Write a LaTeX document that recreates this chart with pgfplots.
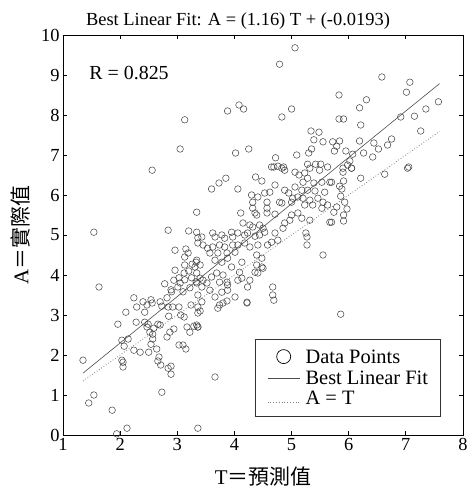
\documentclass[border=0pt]{standalone}
\usepackage{pgfplots}
\pgfplotsset{compat=1.18}
\usepackage{pgfplotstable}
\usepackage{fontspec}
\setmainfont{Liberation Serif}
\newfontfamily\cjk{Noto Sans CJK TC}
\pgfplotsset{
  linelegend/.style={legend image code/.code={\draw[##1] (0bp,0bp) -- (32bp,0bp);}},
  dotlegend/.style={legend image code/.code={\draw[##1] (0bp,-3.5bp) -- (32bp,-3.5bp);}},
  biglegend/.style={legend image code/.code={\path[draw=none,fill=none] (0bp,0bp) -- (32bp,0bp); \draw[##1, mark size=7bp, mark options={line width=0.7pt}] plot coordinates {(16bp,1bp)};}},
}
\pgfplotstableread{
x y
5.06 9.68
4.79 9.27
3.88 8.10
4.08 8.25
4.16 8.15
5.00 8.15
4.83 7.95
4.02 7.05
4.25 7.15
5.34 7.60
5.48 7.57
5.39 7.38
5.55 7.33
5.35 7.15
5.30 7.05
5.09 7.00
4.72 6.93
4.65 6.70
4.76 6.72
4.86 6.70
5.28 6.77
5.42 6.77
5.51 6.77
5.72 7.33
3.13 7.88
3.05 7.15
2.56 6.62
6.58 8.95
7.07 8.82
7.01 8.57
5.83 8.50
6.31 8.38
6.19 8.18
7.57 8.33
7.35 8.15
6.91 7.95
7.15 7.97
5.83 7.90
5.91 7.90
6.21 7.75
7.26 7.60
6.75 7.40
6.68 7.25
6.52 7.15
6.44 7.30
6.19 7.35
5.84 7.35
5.79 7.22
5.75 7.10
5.95 7.10
6.07 7.02
6.26 7.05
6.42 6.95
6.02 6.85
5.98 6.75
5.90 6.67
6.05 6.67
7.05 6.70
1.54 5.07
2.84 5.12
3.20 5.10
3.34 5.57
3.36 4.93
2.96 4.62
3.15 4.65
3.19 4.55
3.13 4.45
3.33 4.32
3.26 4.27
3.13 4.25
3.20 4.10
3.31 4.20
2.96 4.12
3.12 4.05
3.03 3.93
2.94 3.87
3.05 3.80
3.13 3.88
3.25 3.93
3.33 3.83
2.78 3.78
2.89 3.63
2.90 3.58
3.01 3.70
3.10 3.58
3.22 3.68
1.63 3.70
2.24 3.43
2.40 3.33
2.54 3.38
2.70 3.33
2.82 3.43
4.69 6.70
4.83 6.67
4.88 6.62
5.06 6.57
5.13 6.50
5.23 6.55
5.32 6.67
5.49 6.62
5.63 6.70
4.37 6.45
4.48 6.35
3.85 6.42
3.73 6.30
3.60 6.15
4.06 6.15
4.71 6.25
4.62 6.07
4.53 6.05
4.88 6.12
4.95 6.05
5.28 6.42
5.20 6.32
5.39 6.30
5.53 6.32
5.67 6.32
5.06 6.20
5.18 6.12
5.28 6.12
5.41 6.10
5.58 6.07
4.30 6.00
4.41 5.95
4.57 5.82
4.32 5.82
4.79 5.82
4.83 5.80
5.02 5.92
5.00 5.82
5.11 5.95
5.20 5.92
5.32 5.87
5.46 5.92
5.55 5.82
4.32 5.67
4.36 5.55
4.57 5.67
4.57 5.55
5.23 5.75
5.37 5.75
5.53 5.67
5.63 5.75
4.11 5.55
4.39 5.50
4.71 5.52
5.00 5.50
5.11 5.55
4.97 5.37
4.88 5.30
4.85 5.17
5.18 5.42
5.32 5.37
5.67 5.32
4.15 5.30
4.27 5.25
4.32 5.20
4.44 5.25
4.50 5.17
4.53 5.07
4.44 5.00
4.23 5.05
4.36 4.97
4.71 5.05
4.76 4.87
4.65 4.82
4.58 4.75
5.25 5.05
5.27 4.95
5.27 4.75
5.55 4.50
3.43 4.95
3.34 5.07
3.62 5.05
3.66 4.95
3.78 5.00
3.83 4.92
3.95 5.07
3.97 4.95
4.06 5.05
4.18 5.00
3.36 4.80
3.45 4.75
3.53 4.67
3.62 4.70
3.74 4.75
3.83 4.70
3.97 4.75
4.06 4.75
4.18 4.80
4.27 4.70
4.41 4.75
3.57 4.55
3.71 4.55
3.87 4.55
4.01 4.57
4.39 4.50
4.48 4.42
3.34 4.37
3.40 4.25
3.66 4.37
3.78 4.32
3.88 4.42
4.13 4.32
3.95 4.20
4.39 4.25
4.48 4.20
4.36 4.07
4.41 4.05
4.50 4.17
3.69 4.05
3.80 4.00
3.60 3.95
4.09 4.07
4.13 3.92
3.34 4.05
3.40 3.92
3.45 3.87
3.52 3.80
3.34 3.80
3.43 3.70
3.74 3.82
3.87 3.82
3.88 3.75
4.06 3.87
4.27 3.87
4.23 3.70
4.67 3.70
4.67 3.50
3.57 3.62
3.78 3.57
3.88 3.62
3.66 3.45
4.01 3.45
4.22 3.32
3.36 3.50
3.43 3.33
7.03 6.67
6.63 6.52
6.21 6.42
6.05 6.67
5.90 6.57
5.70 6.32
5.91 6.35
5.84 6.22
5.88 6.15
5.86 5.97
5.93 5.82
5.97 5.65
5.91 5.50
5.91 5.35
5.79 5.70
5.74 5.57
5.70 5.32
2.10 3.07
1.96 2.77
1.35 1.87
1.45 0.80
1.54 1.00
1.86 0.62
2.12 0.17
1.94 0.03
2.03 2.37
2.14 2.40
2.07 2.22
2.03 1.87
2.05 1.82
2.05 1.70
2.24 2.12
2.35 2.07
2.50 2.07
2.28 2.82
2.47 3.25
2.56 3.30
2.43 3.07
2.43 2.82
2.49 2.77
2.47 2.70
2.52 2.57
2.57 2.52
2.66 2.77
2.70 2.75
2.59 2.67
2.29 3.20
2.57 2.40
2.54 2.27
2.64 2.15
2.68 1.95
2.66 1.85
2.71 1.75
2.84 1.67
2.89 1.72
2.89 1.52
3.03 2.25
3.10 2.25
3.15 2.15
2.73 1.07
2.82 2.45
2.87 2.57
2.94 2.65
2.73 3.22
2.84 3.20
2.92 3.20
3.03 3.20
3.24 3.25
2.85 2.97
3.06 3.00
3.12 2.95
3.17 2.70
3.22 2.57
3.29 2.72
3.36 2.70
3.36 0.17
3.66 1.45
3.36 3.20
3.40 3.10
3.36 3.05
3.71 3.17
3.74 3.25
3.80 3.30
3.87 3.35
4.22 3.30
4.69 3.37
3.36 2.70
3.34 2.75
5.86 3.02
}\datatable
\pgfplotstableread{
x y
1.35 1.5467
7.59 8.7851
}\fittable
\pgfplotstableread{
x y
1.35 1.35
7.59 7.59
}\idtable
\begin{document}
\begin{tikzpicture}
\begin{axis}[
  scale only axis,
  width=400bp, height=400bp,
  xmin=1, xmax=8, ymin=0, ymax=10,
  xtick={1,2,3,4,5,6,7,8},
  ytick={0,1,2,3,4,5,6,7,8,9,10},
  tick align=inside,
  major tick length=4bp,
  axis line style={black, line width=0.8pt},
  every tick/.style={black, line width=0.8pt},
  tick label style={font=\fontsize{18.5}{20}\selectfont},
  /pgf/number format/assume math mode=true,
  title={Best Linear Fit: A = (1.16) T + (-0.0193)},
  title style={font=\fontsize{18.5}{20}\selectfont, yshift=-4bp, xshift=-25bp},
  xlabel={T{\cjk ＝預測值}},
  ylabel={A{\cjk ＝實際值}},
  label style={font=\fontsize{21}{22}\selectfont},
  xlabel style={yshift=-9bp},
  ylabel style={yshift=4bp},
  legend style={at={(0.945,0.045)}, anchor=south east, draw=black!80, line width=0.8pt,
    font=\fontsize{20.5}{21}\selectfont, row sep=4.5bp, inner xsep=12bp, inner ysep=10bp,
    nodes={inner sep=0.5bp}, column sep=5bp, cells={anchor=west}},
  legend cell align=left,
  clip=false,
]
\addplot[only marks, mark=o, mark size=3.3pt, mark options={draw=black!75, line width=0.5pt}, biglegend] table {\datatable};
\addlegendentry{Data Points}
\addplot[black!70, line width=0.6pt, linelegend] table {\fittable};
\addlegendentry{Best Linear Fit}
\addplot[black!50, dotted, line width=0.8pt, dotlegend] table {\idtable};
\addlegendentry{A = T}
\node[anchor=west, font=\fontsize{20}{21}\selectfont] at (axis cs:1.40,9.05) {R = 0.825};
\end{axis}
\pgfresetboundingbox
\path[use as bounding box] ([shift={(-63bp,-54bp)}]current axis.south west) rectangle ([shift={(9bp,35bp)}]current axis.north east);
\end{tikzpicture}
\end{document}
